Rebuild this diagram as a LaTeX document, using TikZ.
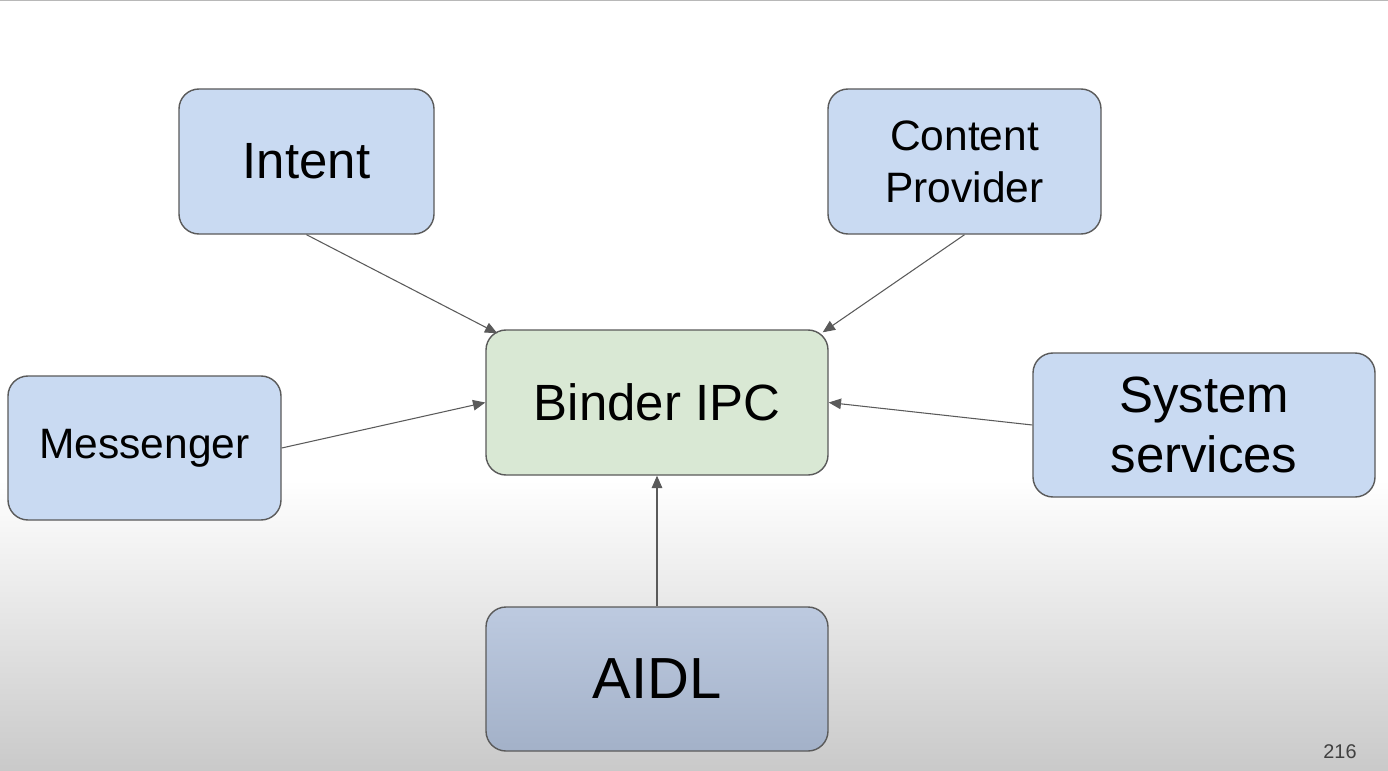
\documentclass[tikz,border=0pt]{standalone}
\usepackage{fontspec}
\setmainfont{Liberation Sans}
\usetikzlibrary{arrows.meta}

\definecolor{boxBlue}{HTML}{C9DAF2}
\definecolor{boxGreen}{HTML}{D9E8D4}
\definecolor{aidlTop}{HTML}{BDCAE0}
\definecolor{aidlBottom}{HTML}{A3B1C8}
\definecolor{lineGray}{HTML}{5A5A5A}

\begin{document}
\begin{tikzpicture}[x=0.02cm,y=-0.02cm,
        baseBox/.style = {draw=lineGray,line width=0.8pt,rounded corners=0.4cm,
                          align=center,inner sep=0pt,text=black},
        blueBox/.style = {baseBox,fill=boxBlue},
        greenBox/.style = {baseBox,fill=boxGreen},
        aidlBox/.style = {baseBox,top color=aidlTop,bottom color=aidlBottom},
        link/.style = {draw=lineGray,line width=0.6pt,-{Triangle[length=7pt,width=6pt]}}
        ]
        % background
        \useasboundingbox (0,0) rectangle (1388,770);
        \fill[white] (0,0) rectangle (1388,480);
        \shade[top color=white,bottom color=black!21] (0,480) rectangle (1388,770);
        \draw[black!28,line width=1pt] (0,0.5) -- (1388,0.5);

        % boxes
        \node[greenBox,minimum width=342*0.02cm,minimum height=145*0.02cm,
              font=\fontsize{29}{35}\selectfont] (binder) at (657,402.5) {Binder IPC};
        \node[blueBox,minimum width=255*0.02cm,minimum height=145*0.02cm,
              font=\fontsize{29}{35}\selectfont] (intent) at (306.5,161.5) {Intent};
        \node[blueBox,minimum width=273*0.02cm,minimum height=145*0.02cm,
              font=\fontsize{24.2}{29.5}\selectfont] (content) at (964.5,161.5) {Content\\Provider};
        \node[blueBox,minimum width=273*0.02cm,minimum height=144*0.02cm,
              font=\fontsize{24.2}{29}\selectfont] (messenger) at (144.5,448) {Messenger};
        \node[blueBox,minimum width=342*0.02cm,minimum height=144*0.02cm,
              font=\fontsize{29}{34.5}\selectfont] (system) at (1204,425) {System\\services};
        \node[aidlBox,minimum width=342*0.02cm,minimum height=144*0.02cm,
              font=\fontsize{33}{40}\selectfont] (aidl) at (657,679) {AIDL};

        % arrows
        \draw[link] (intent.south) -- ([xshift=0.24cm,yshift=-0.08cm]binder.north west);
        \draw[link] (content.south) -- ([xshift=-0.12cm,yshift=-0.06cm]binder.north east);
        \draw[link] (messenger.east) -- (binder.west);
        \draw[link] (system.west) -- (binder.east);
        \draw[link] (aidl.north) -- (binder.south);

        % page number
        \node[text=black!75,font=\fontsize{11.3}{13}\selectfont] (page) at (1340,752) {216};
    \end{tikzpicture}
\end{document}
